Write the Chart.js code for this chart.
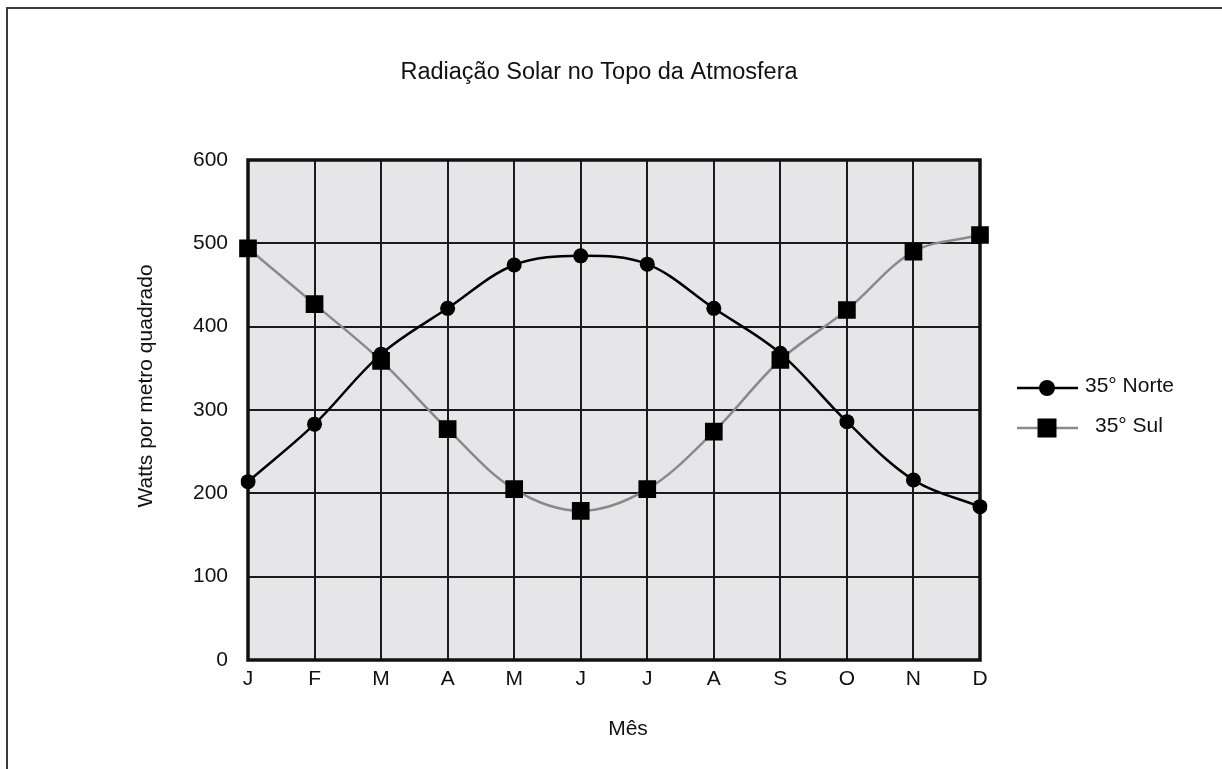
<!DOCTYPE html>
<html><head><meta charset="utf-8">
<script src="https://cdn.jsdelivr.net/npm/chart.js@4"></script>
<style>html,body{margin:0;padding:0;background:#fff;}canvas{display:block;}</style>
</head><body>
<canvas id="c" width="1222" height="769"></canvas>
<script>
const chartTitle = 'Radiação Solar no Topo da Atmosfera';
const xAxisTitle = 'Mês';
const yAxisTitle = 'Watts por metro quadrado';
const months = ['J','F','M','A','M','J','J','A','S','O','N','D'];
const norteLabel = '35° Norte';
const sulLabel = '35° Sul';
const norte = [214, 283, 367, 422, 474, 485, 475, 422, 368, 286, 216, 184];
const sul   = [494, 427, 359, 277, 205, 179, 205, 274, 360, 420, 490, 510];
const yMin = 0, yMax = 600, yStep = 100;

const FONT = "'Liberation Sans', Arial, sans-serif";

const decor = {
  id: 'decor',
  beforeDraw(chart) {
    const {ctx, chartArea: a} = chart;
    ctx.save();
    ctx.fillStyle = '#fff';
    ctx.fillRect(0, 0, chart.width, chart.height);
    ctx.strokeStyle = '#3c3c3c';
    ctx.lineWidth = 2;
    ctx.strokeRect(7, 8, 1260, 820);
    ctx.fillStyle = '#e6e6e8';
    ctx.fillRect(a.left, a.top, a.right - a.left, a.bottom - a.top);
    ctx.restore();
  },
  beforeDatasetsDraw(chart) {
    const {ctx, chartArea: a} = chart;
    ctx.save();
    ctx.strokeStyle = '#111';
    ctx.lineWidth = 3.5;
    ctx.strokeRect(a.left, a.top, a.right - a.left, a.bottom - a.top);
    ctx.restore();
  },
  afterDraw(chart) {
    const {ctx} = chart;
    ctx.save();
    ctx.fillStyle = '#111';
    ctx.textBaseline = 'middle';
    ctx.textAlign = 'center';
    ctx.font = '23.5px ' + FONT;
    ctx.fillText(chartTitle, 599, 73);
    ctx.font = '21px ' + FONT;
    ctx.fillText(xAxisTitle, 628, 729);
    ctx.save();
    ctx.translate(146, 386);
    ctx.rotate(-Math.PI / 2);
    ctx.fillText(yAxisTitle, 0, 0);
    ctx.restore();
    // legend
    const items = chart.data.datasets.map((ds, i) => ({ds, y: i === 0 ? 388 : 428, tx: i === 0 ? 1085 : 1095}));
    items.forEach(({ds, y, tx}) => {
      ctx.strokeStyle = ds.borderColor;
      ctx.lineWidth = ds.borderWidth;
      ctx.beginPath();
      ctx.moveTo(1017, y); ctx.lineTo(1078, y);
      ctx.stroke();
      ctx.fillStyle = '#000';
      if (ds.pointStyle === 'circle') {
        ctx.beginPath(); ctx.arc(1047, y, 8, 0, Math.PI * 2); ctx.fill();
      } else {
        ctx.fillRect(1047 - 9.5, y - 9.5, 19, 19);
      }
      ctx.fillStyle = '#111';
      ctx.textAlign = 'left';
      ctx.font = '21px ' + FONT;
      ctx.fillText(ds.label, tx, y - 2);
    });
    ctx.restore();
  }
};

new Chart(document.getElementById('c'), {
  type: 'line',
  data: {
    labels: months,
    datasets: [
      {label: norteLabel, data: norte, borderColor: '#000', borderWidth: 2.5,
       pointStyle: 'circle', pointRadius: 7.5, pointBackgroundColor: '#000', pointBorderColor: '#000', pointBorderWidth: 0,
       tension: 0.35, fill: false},
      {label: sulLabel, data: sul, borderColor: '#8a8a8a', borderWidth: 2.5,
       pointStyle: 'rect', pointRadius: 12.5, pointBackgroundColor: '#000', pointBorderColor: '#000', pointBorderWidth: 0,
       tension: 0.35, fill: false}
    ]
  },
  options: {
    responsive: false,
    animation: false,
    events: [],
    layout: {padding: {left: 188, top: 160, right: 242, bottom: 49}},
    plugins: {legend: {display: false}, title: {display: false}, tooltip: {enabled: false}},
    scales: {
      x: {
        offset: false,
        grid: {color: '#1a1a1a', lineWidth: 2, drawTicks: false},
        border: {display: false},
        ticks: {color: '#111', font: {family: FONT, size: 21}, padding: 7, maxRotation: 0, autoSkip: false},
        afterFit(s) { s.height = 60; }
      },
      y: {
        min: yMin, max: yMax,
        grid: {color: '#1a1a1a', lineWidth: 2, drawTicks: false},
        border: {display: false},
        ticks: {stepSize: yStep, color: '#111', font: {family: FONT, size: 21}, padding: 20},
        afterFit(s) { s.width = 60; }
      }
    }
  },
  plugins: [decor]
});
</script>
</body></html>
